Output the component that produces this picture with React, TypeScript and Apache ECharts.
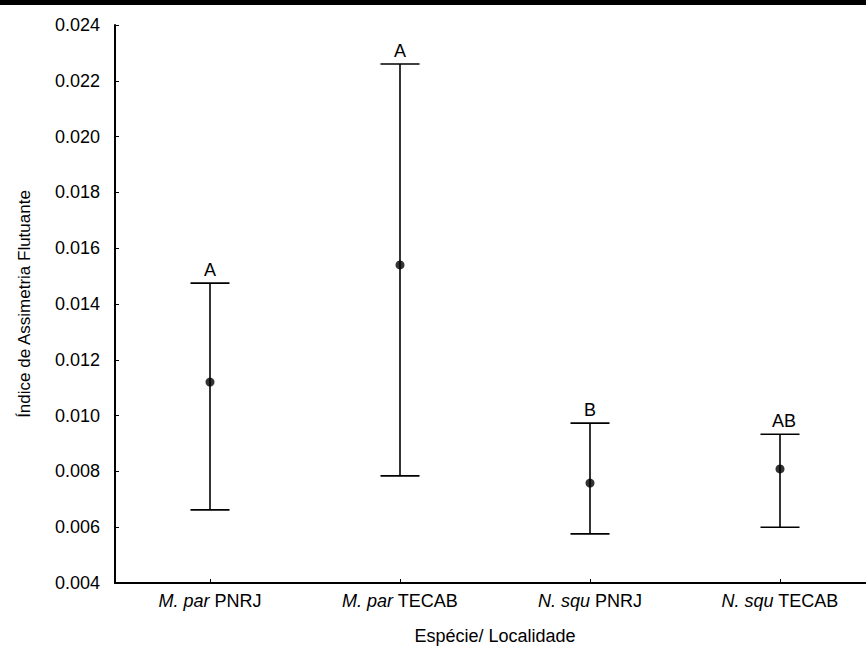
import React, { useEffect, useRef } from "react";
import * as echarts from "echarts";

// Species / locality groups
const species = ["M. par", "M. par", "N. squ", "N. squ"];
const sites = ["PNRJ", "TECAB", "PNRJ", "TECAB"];
const categories = species.map((s, i) => `${s} ${sites[i]}`);

// Fluctuating asymmetry index: mean and interval limits
const means = [0.0112, 0.0154, 0.00758, 0.00809];
const upper = [0.01475, 0.0226, 0.00973, 0.00933];
const lower = [0.00662, 0.00784, 0.00576, 0.006];
const groupLetters = ["A", "A", "B", "AB"];

// Y axis scale
const yMin = 0.004;
const yMax = 0.024;
const yStep = 0.002;

const FONT = "Liberation Sans, Arial, sans-serif";

export default function App() {
  const ref = useRef<HTMLDivElement>(null);

  useEffect(() => {
    if (!ref.current) return;
    const chart = echarts.init(ref.current, null, { renderer: "svg" });

    const barData = categories.map((_, i) => [i, lower[i], upper[i], groupLetters[i]]);

    chart.setOption({
      animation: false,
      backgroundColor: "#ffffff",
      textStyle: { fontFamily: FONT },
      graphic: [
        {
          type: "rect",
          left: 0,
          top: 0,
          shape: { x: 0, y: 0, width: 866, height: 5 },
          style: { fill: "#000000" },
          z: 100,
        },
      ],
      grid: { left: 115, top: 25, width: 760, height: 558, outerBoundsMode: "none", containLabel: false },
      xAxis: {
        type: "category",
        data: categories,
        boundaryGap: true,
        name: "Espécie/ Localidade",
        nameLocation: "middle",
        nameGap: 44,
        nameTextStyle: { fontFamily: FONT, fontSize: 18, color: "#000" },
        axisLine: { lineStyle: { color: "#000", width: 2 } },
        axisTick: { show: true, inside: true, length: 4, alignWithLabel: true, lineStyle: { color: "#000", width: 1 } },
        axisLabel: {
          margin: 9,
          interval: 0,
          fontFamily: FONT,
          fontSize: 18,
          color: "#000",
          formatter: (_v: string, idx: number) => `{i|${species[idx]}} ${sites[idx]}`,
          rich: {
            i: { fontStyle: "italic", fontFamily: FONT, fontSize: 18, color: "#000" },
          },
        },
        splitLine: { show: false },
      },
      yAxis: {
        type: "value",
        min: yMin,
        max: yMax,
        interval: yStep,
        name: "Índice de Assimetria Flutuante",
        nameLocation: "middle",
        nameGap: 82,
        nameTextStyle: { fontFamily: FONT, fontSize: 17, color: "#000" },
        axisLine: { show: true, lineStyle: { color: "#000", width: 2 } },
        axisTick: { show: true, inside: true, length: 4, lineStyle: { color: "#000", width: 1 } },
        axisLabel: {
          margin: 15,
          fontFamily: FONT,
          fontSize: 18,
          color: "#000",
          formatter: (v: number) => v.toFixed(3),
        },
        splitLine: { show: false },
      },
      series: [
        {
          type: "custom",
          data: barData,
          renderItem: (params: any, api: any) => {
            const x = api.value(0);
            const lo = api.coord([x, api.value(1)]);
            const hi = api.coord([x, api.value(2)]);
            const letter = groupLetters[params.dataIndex];
            const half = 19.5;
            const stroke = { stroke: "#000", lineWidth: 1.6 };
            return {
              type: "group",
              children: [
                { type: "line", shape: { x1: lo[0], y1: lo[1], x2: hi[0], y2: hi[1] }, style: stroke },
                { type: "line", shape: { x1: hi[0] - half, y1: hi[1], x2: hi[0] + half, y2: hi[1] }, style: stroke },
                { type: "line", shape: { x1: lo[0] - half, y1: lo[1], x2: lo[0] + half, y2: lo[1] }, style: stroke },
                {
                  type: "text",
                  x: hi[0] + (letter.length > 1 ? 4 : 0),
                  y: hi[1] - 4,
                  style: {
                    text: letter,
                    fill: "#000",
                    font: `18px ${FONT}`,
                    align: "center",
                    verticalAlign: "bottom",
                  },
                },
              ],
            };
          },
          z: 2,
        },
        {
          type: "scatter",
          data: means.map((m, i) => [i, m]),
          symbol: "circle",
          symbolSize: 9,
          itemStyle: { color: "#000" },
          z: 3,
        },
      ],
    });

    return () => chart.dispose();
  }, []);

  return (
    <div
      ref={ref}
      style={{ position: "fixed", left: 0, top: 0, width: 866, height: 648, background: "#fff" }}
    />
  );
}
